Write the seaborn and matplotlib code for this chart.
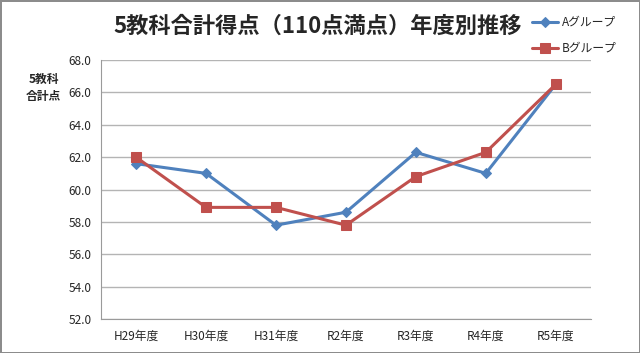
import matplotlib
matplotlib.use('Agg')
import matplotlib.pyplot as plt
import numpy as np
import pandas as pd
import seaborn as sns

years = ['H29年度', 'H30年度', 'H31年度', 'R2年度', 'R3年度', 'R4年度', 'R5年度']
group_a = [61.6, 61.0, 57.8, 58.6, 62.3, 61.0, 66.5]
group_b = [62.0, 58.9, 58.9, 57.8, 60.8, 62.3, 66.5]
y_ticks = [52.0, 54.0, 56.0, 58.0, 60.0, 62.0, 64.0, 66.0, 68.0]

sns.set_style('white')
plt.rcParams['font.family'] = ['Noto Sans CJK JP', 'DejaVu Sans']

df = pd.DataFrame({'year': years, 'A': group_a, 'B': group_b})

fig = plt.figure(figsize=(6.4, 3.53), dpi=100)
fig.patch.set_edgecolor('#8c8c8c')
fig.patch.set_linewidth(2)
ax = fig.add_axes([0.158, 0.096, 0.765, 0.734])

sns.lineplot(data=df, x='year', y='A', ax=ax, color='#4f81bd', linewidth=2.2,
             marker='D', markersize=5.5, markeredgecolor='#4f81bd', label='Aグループ')
sns.lineplot(data=df, x='year', y='B', ax=ax, color='#c0504d', linewidth=2.2,
             marker='s', markersize=7, markeredgecolor='#c0504d', label='Bグループ')

ax.set_xlim(-0.5, len(years) - 0.5)
ax.set_ylim(52, 68)
ax.set_yticks(y_ticks)
ax.set_yticklabels([f'{v:.1f}' for v in y_ticks], fontsize=8.5)
ax.set_xticks(range(len(years)))
ax.set_xticklabels(years, fontsize=8.5)
ax.set_xticks(np.arange(-0.5, len(years)), minor=True)
ax.tick_params(axis='x', which='major', length=0, pad=8)
ax.tick_params(axis='x', which='minor', length=4, color='#9a9a9a', direction='out')
ax.tick_params(axis='y', length=4, color='#9a9a9a', direction='out', pad=3)
ax.yaxis.grid(True, color='#b4b4b4', linewidth=1)
ax.set_axisbelow(True)
for s in ['top', 'right']:
    ax.spines[s].set_visible(False)
for s in ['left', 'bottom']:
    ax.spines[s].set_color('#9a9a9a')
ax.set_xlabel('')
ax.set_ylabel('')

fig.text(0.068, 0.75, '5教科\n合計点', ha='center', va='center', fontsize=8.5,
         fontweight='bold', linespacing=1.4)
fig.text(0.497, 0.925, '5教科合計得点（110点満点）年度別推移', ha='center', va='center',
         fontsize=16, fontweight='bold')

ax.get_legend().remove()
handles, labels = ax.get_legend_handles_labels()
fig.legend(handles, labels, loc='upper left', bbox_to_anchor=(0.815, 0.985),
           frameon=False, fontsize=8.5, labelspacing=1.1, handlelength=2.2,
           handletextpad=0.3)

fig.savefig('out.png', dpi=100)
